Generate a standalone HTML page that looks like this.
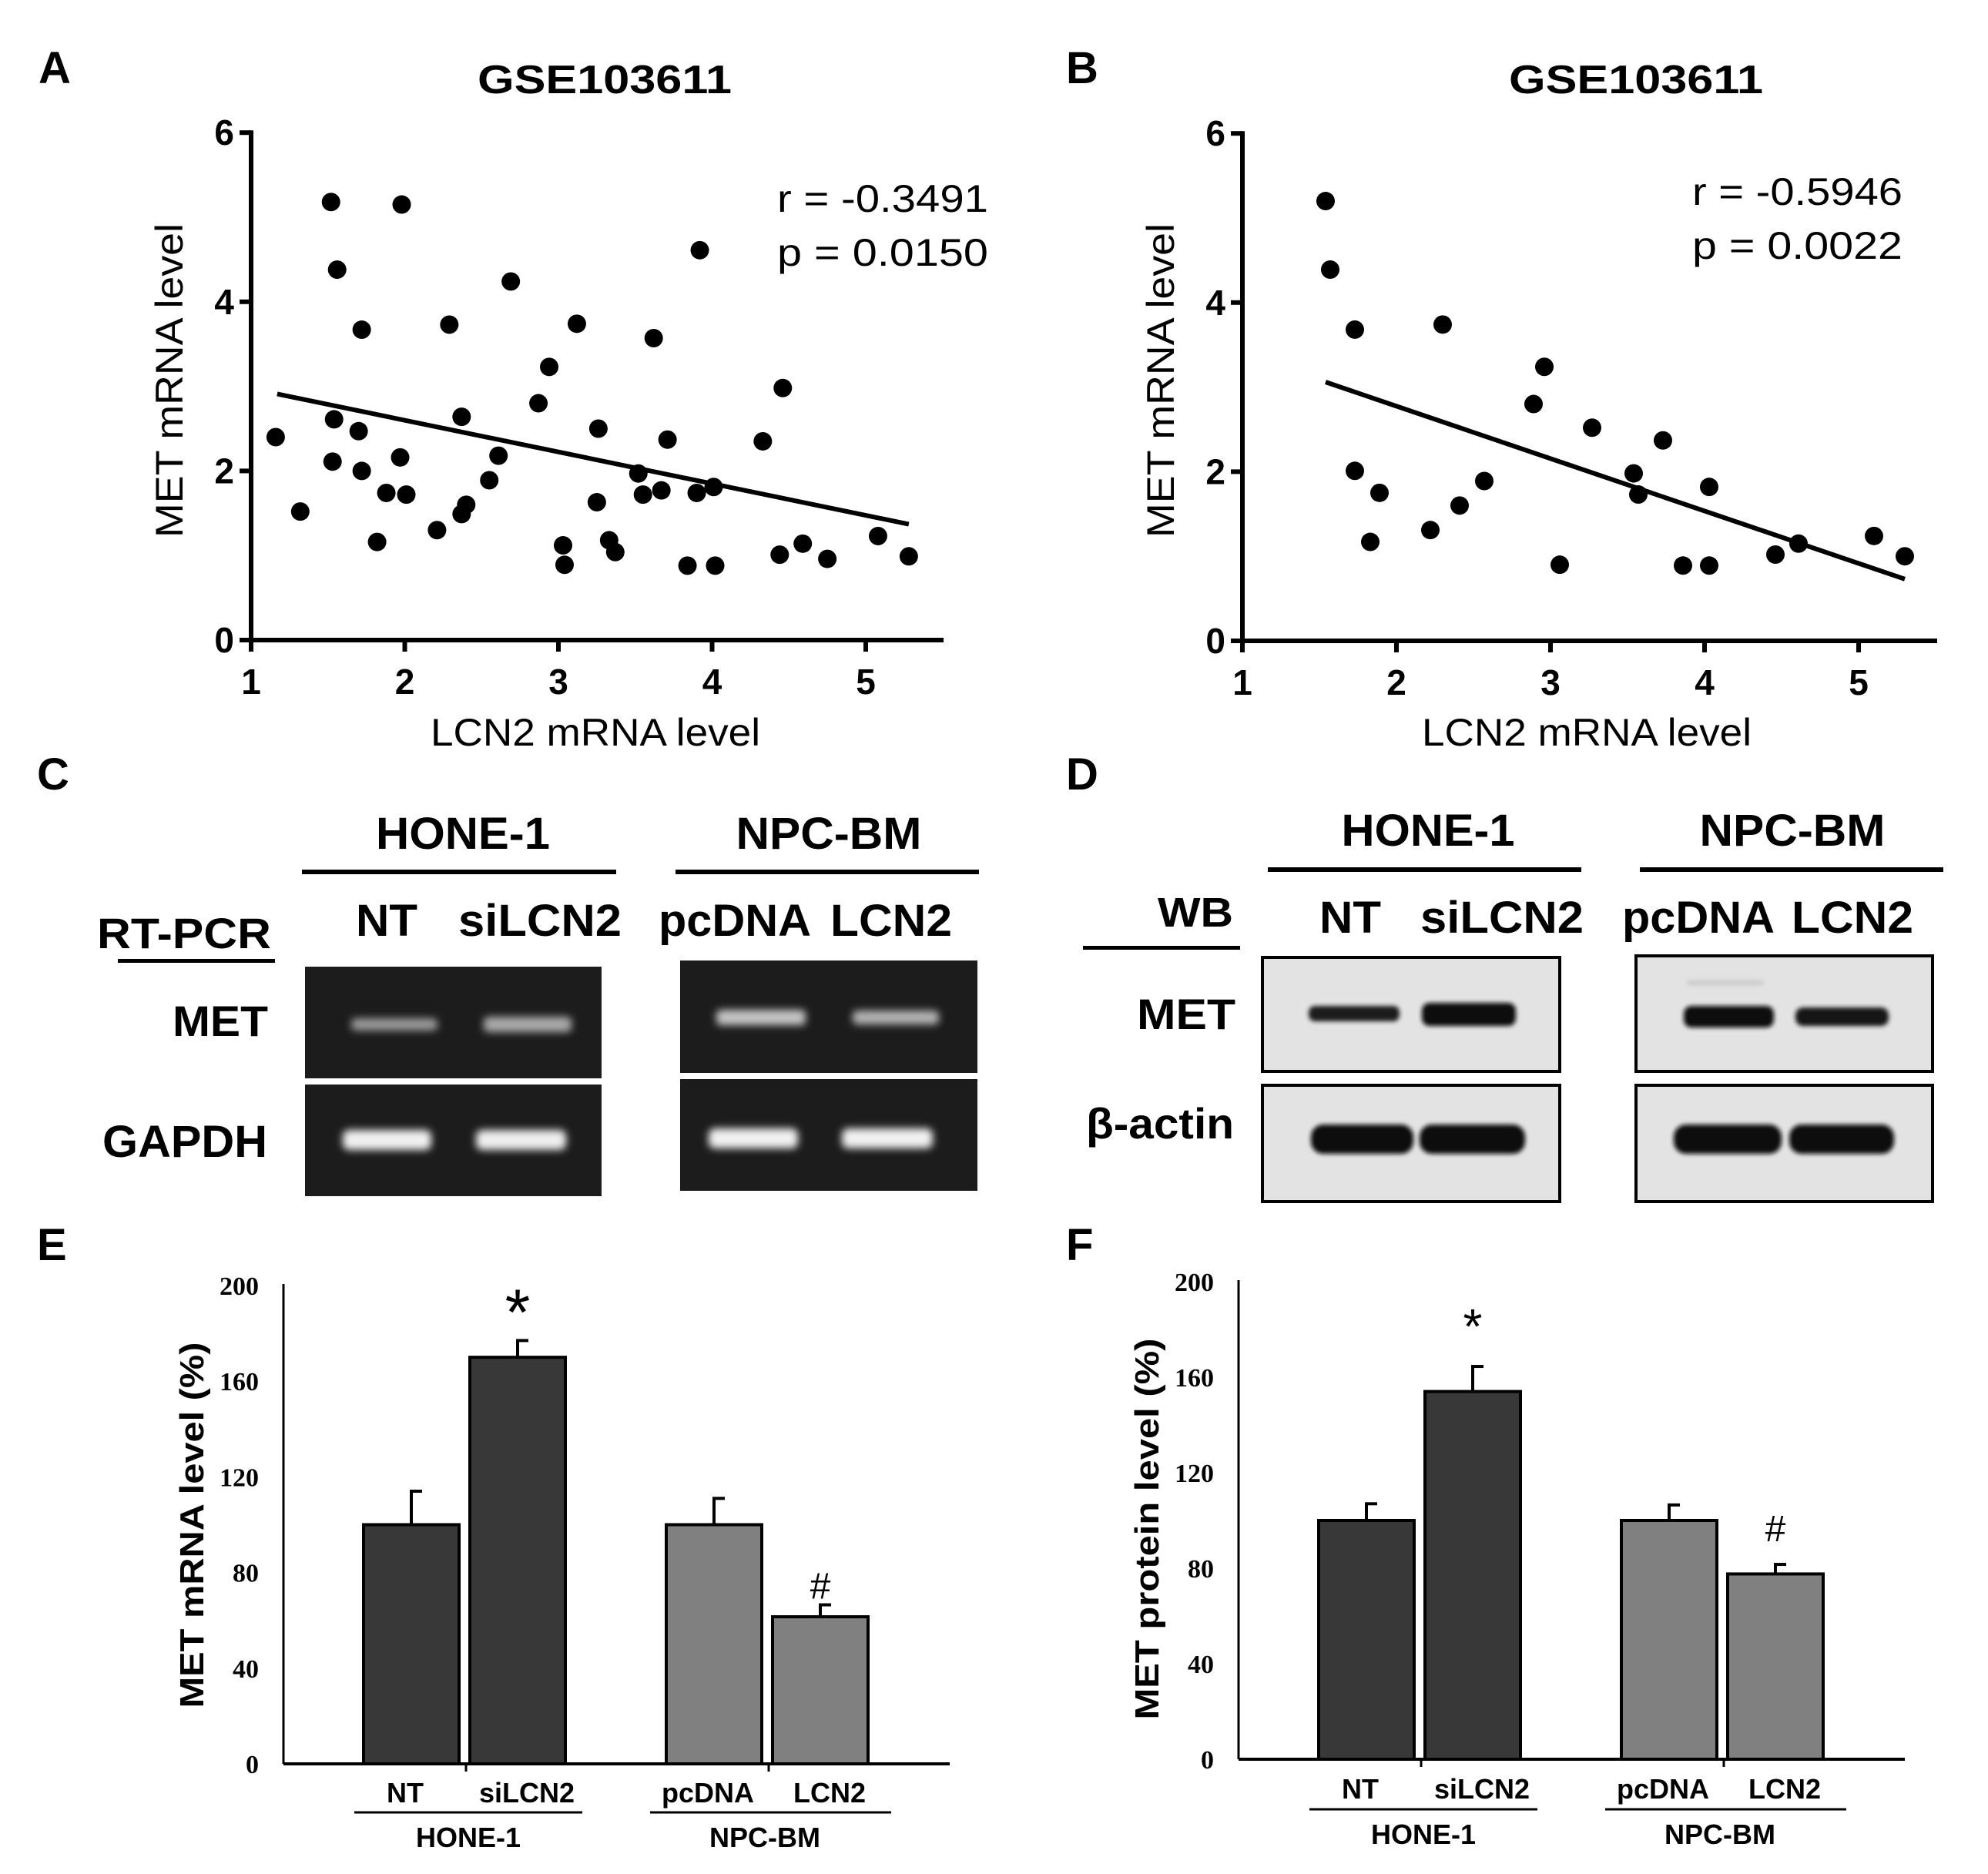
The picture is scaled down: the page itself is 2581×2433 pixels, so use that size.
<!DOCTYPE html>
<html><head><meta charset="utf-8">
<style>
html,body{margin:0;padding:0;background:#fff;}
svg{display:block;}
text{font-family:"Liberation Sans",Arial,sans-serif;}
.b{font-weight:bold;}
.serif{font-family:"Liberation Serif",serif;font-weight:bold;}
</style></head>
<body>
<svg id="fig" xmlns="http://www.w3.org/2000/svg" width="2581" height="2433" viewBox="0 0 2581 2433">
<defs>
<filter id="blur4" x="-20%" y="-100%" width="140%" height="300%"><feGaussianBlur stdDeviation="5"/></filter>
<filter id="blur2" x="-20%" y="-100%" width="140%" height="300%"><feGaussianBlur stdDeviation="3"/></filter>
</defs>

<text x="50" y="108" font-size="58" class="b">A</text>
<text x="1384" y="108" font-size="58" class="b">B</text>
<text x="48" y="1025" font-size="58" class="b">C</text>
<text x="1384" y="1025" font-size="58" class="b">D</text>
<text x="48" y="1636" font-size="58" class="b">E</text>
<text x="1384" y="1636" font-size="58" class="b">F</text>

<g id="scatterA"></g>
<g id="scatterB"></g>

<g>
<text x="601" y="1102" font-size="58" class="b" text-anchor="middle" textLength="226" lengthAdjust="spacingAndGlyphs">HONE-1</text>
<text x="1076" y="1102" font-size="58" class="b" text-anchor="middle" textLength="241" lengthAdjust="spacingAndGlyphs">NPC-BM</text>
<rect x="392" y="1129" width="408" height="6" fill="#000"/>
<rect x="877" y="1129" width="394" height="6" fill="#000"/>
<text x="502" y="1215" font-size="58" class="b" text-anchor="middle" textLength="80" lengthAdjust="spacingAndGlyphs">NT</text>
<text x="701" y="1215" font-size="58" class="b" text-anchor="middle" textLength="212" lengthAdjust="spacingAndGlyphs">siLCN2</text>
<text x="954" y="1215" font-size="58" class="b" text-anchor="middle" textLength="198" lengthAdjust="spacingAndGlyphs">pcDNA</text>
<text x="1157" y="1215" font-size="58" class="b" text-anchor="middle" textLength="158" lengthAdjust="spacingAndGlyphs">LCN2</text>
<text x="126" y="1231" font-size="56" class="b" textLength="226" lengthAdjust="spacingAndGlyphs">RT-PCR</text>
<rect x="153" y="1245" width="204" height="5" fill="#000"/>
<text x="348" y="1345" font-size="56" class="b" text-anchor="end" textLength="124" lengthAdjust="spacingAndGlyphs">MET</text>
<text x="347" y="1502" font-size="58" class="b" text-anchor="end" textLength="214" lengthAdjust="spacingAndGlyphs">GAPDH</text>
<rect x="396" y="1255" width="385" height="145" fill="#1c1c1c"/>
<rect x="396" y="1408" width="385" height="145" fill="#1c1c1c"/>
<rect x="883" y="1247" width="386" height="146" fill="#1c1c1c"/>
<rect x="883" y="1401" width="386" height="145" fill="#1c1c1c"/>
<g filter="url(#blur4)">
<rect x="456" y="1322" width="112" height="16" rx="6" fill="#9a9a9a"/>
<rect x="628" y="1320" width="114" height="20" rx="6" fill="#a8a8a8"/>
<rect x="930" y="1311" width="116" height="20" rx="6" fill="#c4c4c4"/>
<rect x="1107" y="1312" width="112" height="18" rx="6" fill="#b4b4b4"/>
<rect x="445" y="1467" width="115" height="26" rx="8" fill="#f0f0f0"/>
<rect x="618" y="1467" width="117" height="26" rx="8" fill="#eeeeee"/>
<rect x="920" y="1465" width="116" height="26" rx="8" fill="#f0f0f0"/>
<rect x="1093" y="1465" width="118" height="26" rx="8" fill="#f0f0f0"/>
</g>
</g>

<g>
<text x="1854" y="1098" font-size="58" class="b" text-anchor="middle" textLength="225" lengthAdjust="spacingAndGlyphs">HONE-1</text>
<text x="2327" y="1098" font-size="58" class="b" text-anchor="middle" textLength="241" lengthAdjust="spacingAndGlyphs">NPC-BM</text>
<rect x="1646" y="1126" width="407" height="6" fill="#000"/>
<rect x="2129" y="1126" width="394" height="6" fill="#000"/>
<text x="1753" y="1211" font-size="58" class="b" text-anchor="middle" textLength="80" lengthAdjust="spacingAndGlyphs">NT</text>
<text x="1950" y="1211" font-size="58" class="b" text-anchor="middle" textLength="212" lengthAdjust="spacingAndGlyphs">siLCN2</text>
<text x="2205" y="1211" font-size="58" class="b" text-anchor="middle" textLength="198" lengthAdjust="spacingAndGlyphs">pcDNA</text>
<text x="2405" y="1211" font-size="58" class="b" text-anchor="middle" textLength="158" lengthAdjust="spacingAndGlyphs">LCN2</text>
<text x="1601" y="1203" font-size="54" class="b" text-anchor="end" textLength="98" lengthAdjust="spacingAndGlyphs">WB</text>
<rect x="1406" y="1228" width="204" height="5" fill="#000"/>
<text x="1604" y="1336" font-size="56" class="b" text-anchor="end" textLength="128" lengthAdjust="spacingAndGlyphs">MET</text>
<text x="1602" y="1478" font-size="56" class="b" text-anchor="end" textLength="192" lengthAdjust="spacingAndGlyphs">β-actin</text>
<rect x="1639" y="1243" width="386" height="148" fill="#e3e3e3" stroke="#000" stroke-width="4"/>
<rect x="1639" y="1409" width="386" height="151" fill="#e3e3e3" stroke="#000" stroke-width="4"/>
<rect x="2124" y="1241" width="385" height="150" fill="#e3e3e3" stroke="#000" stroke-width="4"/>
<rect x="2124" y="1409" width="385" height="151" fill="#e3e3e3" stroke="#000" stroke-width="4"/>
<g filter="url(#blur2)">
<rect x="1699" y="1306" width="118" height="20" rx="8" fill="#1e1e1e"/>
<rect x="1846" y="1302" width="122" height="30" rx="10" fill="#0c0c0c"/>
<rect x="2186" y="1306" width="117" height="28" rx="10" fill="#0c0c0c"/>
<rect x="2331" y="1308" width="121" height="24" rx="10" fill="#121212"/>
<rect x="2190" y="1273" width="100" height="6" rx="3" fill="#c8c8c8"/>
<rect x="1702" y="1460" width="133" height="38" rx="16" fill="#080808"/>
<rect x="1843" y="1460" width="137" height="38" rx="16" fill="#080808"/>
<rect x="2173" y="1460" width="140" height="38" rx="16" fill="#080808"/>
<rect x="2323" y="1460" width="136" height="38" rx="16" fill="#080808"/>
</g>
</g>

<g id="barE"></g>
<g id="barF"></g>
</svg>

<script>
const scatterAX = [1.52,1.98,1.56,2.69,3.92,1.72,2.29,3.12,3.62,2.94,4.46,2.87,1.54,2.37,1.16,1.70,3.26,3.71,4.33,1.53,1.97,2.61,1.72,2.55,3.52,1.88,2.01,3.55,3.67,3.90,4.01,1.32,2.40,2.37,3.25,2.21,1.82,3.03,3.33,3.37,3.04,3.84,4.02,4.44,4.59,4.75,5.08,5.28];
const scatterAY = [5.18,5.15,4.38,4.24,4.61,3.67,3.73,3.74,3.57,3.23,2.98,2.80,2.61,2.64,2.40,2.47,2.50,2.37,2.35,2.11,2.16,2.18,2.00,1.89,1.97,1.74,1.72,1.72,1.77,1.74,1.81,1.52,1.60,1.49,1.63,1.30,1.16,1.12,1.18,1.04,0.89,0.88,0.88,1.01,1.14,0.96,1.23,0.99];
const fitAX = [1.17,5.28];
const fitAY = [2.91,1.37];
const statsA = ["r = -0.3491","p = 0.0150"];

const scatterBX = [1.54,1.57,1.73,2.30,2.96,2.89,3.27,3.73,1.73,1.89,2.57,2.41,3.54,3.57,4.03,1.83,2.22,3.06,3.86,4.03,4.46,4.61,5.10,5.30];
const scatterBY = [5.20,4.39,3.68,3.74,3.24,2.80,2.52,2.37,2.01,1.75,1.89,1.60,1.98,1.73,1.82,1.17,1.31,0.90,0.89,0.89,1.02,1.15,1.24,1.00];
const fitBX = [1.54,5.30];
const fitBY = [3.06,0.73];
const statsB = ["r = -0.5946","p = 0.0022"];

const scatterXTicks = [1,2,3,4,5];
const scatterYTicks = [0,2,4,6];

const barCategories = ["NT","siLCN2","pcDNA","LCN2"];
const barGroups = ["HONE-1","NPC-BM"];
const barYTicks = [0,40,80,120,160,200];
const mrnaValues = [100,170,100,61.5];
const mrnaErrors = [14,7,11,5];
const proteinValues = [100,154,100,77.6];
const proteinErrors = [7,10.5,6.5,4];
const mrnaMarks = ["","*","","#"];
const proteinMarks = ["","*","","#"];

const NS = "http://www.w3.org/2000/svg";
function mk(parent, tag, attrs, text){
  const e = document.createElementNS(NS, tag);
  for (const k in attrs) e.setAttribute(k, attrs[k]);
  if (text !== undefined) e.textContent = text;
  parent.appendChild(e);
  return e;
}

function drawScatter(g, o, xs, ys, fx, fy, stats, suffix){
  const sx = v => o.x0 + (v - 1) * o.ux;
  const sy = v => o.y0 - v * o.uy;
  let e;
  e = mk(g,'text',{x:o.titleX,y:121,'font-size':52,'font-weight':'bold','text-anchor':'middle',textLength:330,lengthAdjust:'spacingAndGlyphs'},'GSE103611');
  
  
  e = mk(g,'line',{x1:o.x0,y1:sy(6)-3,x2:o.x0,y2:o.y0+3,stroke:'#000','stroke-width':6});
  
  
  e = mk(g,'line',{x1:o.x0-3,y1:o.y0,x2:o.xEnd,y2:o.y0,stroke:'#000','stroke-width':6});
  
  
  scatterXTicks.forEach(t=>{
    let l = mk(g,'line',{x1:sx(t),y1:o.y0,x2:sx(t),y2:o.y0+15,stroke:'#000','stroke-width':6});
    
    
    let tx = mk(g,'text',{x:sx(t),y:o.y0+70,'font-size':46,'font-weight':'bold','text-anchor':'middle'},String(t));
    
    
  });
  scatterYTicks.forEach(t=>{
    let l = mk(g,'line',{x1:o.x0-15,y1:sy(t),x2:o.x0,y2:sy(t),stroke:'#000','stroke-width':6});
    
    
    let tx = mk(g,'text',{x:o.x0-22,y:sy(t)+16,'font-size':46,'font-weight':'bold','text-anchor':'end'},String(t));
    
    
  });
  e = mk(g,'text',{x:o.x0+447,y:968,'font-size':50,'text-anchor':'middle',textLength:428,lengthAdjust:'spacingAndGlyphs'},'LCN2 mRNA level');
  
  
  e = mk(g,'text',{x:0,y:0,'font-size':50,'text-anchor':'middle',textLength:408,lengthAdjust:'spacingAndGlyphs',transform:'translate('+(o.x0-89)+',494) rotate(-90)'},'MET mRNA level');
  
  
  xs.forEach((x,i)=>{
    let c = mk(g,'circle',{cx:sx(x),cy:sy(ys[i]),r:12,fill:'#000'});
    
    
  });
  e = mk(g,'line',{x1:sx(fx[0]),y1:sy(fy[0]),x2:sx(fx[1]),y2:sy(fy[1]),stroke:'#000','stroke-width':6});
  
  
  e = mk(g,'text',{x:o.statsX,y:o.statsY,'font-size':50,'text-anchor':'end',textLength:o.statsW,lengthAdjust:'spacingAndGlyphs'},stats[0]);
  
  
  e = mk(g,'text',{x:o.statsX,y:o.statsY+70,'font-size':50,'text-anchor':'end',textLength:o.statsW,lengthAdjust:'spacingAndGlyphs'},stats[1]);
  
  
}

drawScatter(document.getElementById('scatterA'),{x0:326,y0:831,ux:199.5,uy:109.8,xEnd:1225,titleX:785,statsX:1283,statsY:275,statsW:274},scatterAX,scatterAY,fitAX,fitAY,statsA,'a');
drawScatter(document.getElementById('scatterB'),{x0:1613,y0:832,ux:200,uy:109.8,xEnd:2515,titleX:2124,statsX:2470,statsY:266,statsW:273},scatterBX,scatterBY,fitBX,fitBY,statsB,'b');

function drawBars(g, o, vals, errs, marks, title, suffix){
  const sy = v => o.y0 - v * o.uy;
  const barLeft = [o.x0+104, o.x0+242, o.x0+497, o.x0+635];
  const bw = 124;
  const fills = ['#383838','#383838','#808080','#808080'];
  let e;
  e = mk(g,'line',{x1:o.x0,y1:sy(200)-2,x2:o.x0,y2:o.y0,stroke:'#000','stroke-width':3});
  
  
  e = mk(g,'line',{x1:o.x0,y1:o.y0,x2:o.x0+865,y2:o.y0,stroke:'#000','stroke-width':4});
  
  
  barYTicks.forEach(t=>{
    let tx = mk(g,'text',{x:o.x0-32,y:sy(t)+12,'font-size':34,'class':'serif','text-anchor':'end'},String(t));
    
    
  });
  [o.x0+237,o.x0+630].forEach(x=>{
    let l = mk(g,'line',{x1:x,y1:o.y0,x2:x,y2:o.y0+10,stroke:'#000','stroke-width':3});
    
    
  });
  vals.forEach((v,i)=>{
    const cx = barLeft[i] + bw/2;
    let ln = mk(g,'line',{x1:cx,y1:sy(v),x2:cx,y2:sy(v+errs[i]),stroke:'#000','stroke-width':4});
    
    
    let cp = mk(g,'line',{x1:cx-2,y1:sy(v+errs[i]),x2:cx+14,y2:sy(v+errs[i]),stroke:'#000','stroke-width':4});
    
    
    let r = mk(g,'rect',{x:barLeft[i],y:sy(v),width:bw,height:o.y0-sy(v),fill:fills[i],stroke:'#000','stroke-width':4});
    
    
    let lb = mk(g,'text',{x:barLeft[i]+bw/2+(i%2?12:-8),y:o.labelY,'font-size':36,'font-weight':'bold','text-anchor':'middle'},barCategories[i]);
    
    
    if (marks[i]) {
      let m = mk(g,'text',{x:cx,y:sy(v+errs[i])-o.markGap,'font-size':marks[i]==='*'?o.starSize:48,'font-family':'Liberation Serif, serif','text-anchor':'middle'},marks[i]);
      
      
    }
  });
  [[o.x0+92,o.x0+388,o.x0+240],[o.x0+476,o.x0+789,o.x0+625]].forEach((gp,j)=>{
    let l = mk(g,'line',{x1:gp[0],y1:o.lineY,x2:gp[1],y2:o.lineY,stroke:'#000','stroke-width':3});
    
    
    let t = mk(g,'text',{x:gp[2],y:o.lineY+45,'font-size':36,'font-weight':'bold','text-anchor':'middle'},barGroups[j]);
    
    
  });
  e = mk(g,'text',{x:0,y:0,'font-size':44,'font-weight':'bold','text-anchor':'middle',textLength:o.titleLen,lengthAdjust:'spacingAndGlyphs',transform:'translate('+(o.x0-104)+','+o.titleY+') rotate(-90)'},title);
  
  
}

drawBars(document.getElementById('barE'),{x0:368,y0:2290,uy:3.105,labelY:2340,lineY:2353,markGap:8,starSize:84,titleY:1980,titleLen:475},mrnaValues,mrnaErrors,mrnaMarks,'MET mRNA level (%)','e');
drawBars(document.getElementById('barF'),{x0:1608,y0:2284,uy:3.1,labelY:2335,lineY:2349,markGap:30,starSize:64,titleY:1985,titleLen:495},proteinValues,proteinErrors,proteinMarks,'MET protein level (%)','f');
</script>
</body></html>
